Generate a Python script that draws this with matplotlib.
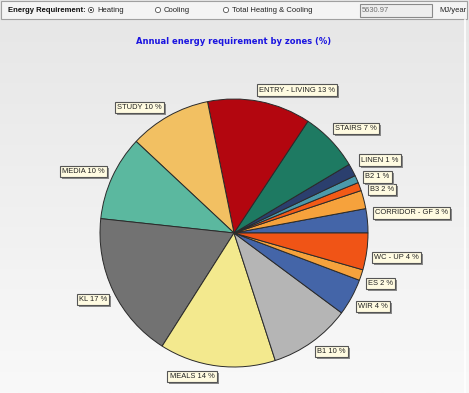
import numpy as np
import matplotlib
matplotlib.use("Agg")
import matplotlib.pyplot as plt
import matplotlib.patheffects as pe
from matplotlib.patches import Rectangle, Circle

plt.rcParams["font.family"] = ["Liberation Sans", "DejaVu Sans"]

# zones, counter-clockwise from 3 o'clock
zones = ["CORRIDOR - GF", "B3", "", "B2", "LINEN", "STAIRS", "ENTRY - LIVING",
         "STUDY", "MEDIA", "KL", "MEALS", "B1", "WIR", "ES", "WC - UP"]
shares = [2.9, 2.2, 1.0, 0.9, 1.5, 7.1, 12.4, 9.8, 10.2, 17.6, 13.9, 9.8, 4.4, 1.3, 4.4]
shown = [3, 2, None, 1, 1, 7, 13, 10, 10, 17, 14, 10, 4, 2, 4]
colors = ["#4465a8", "#f6a23c", "#f25a16", "#4b9aab", "#2b3f6e", "#1e7a62", "#b3060f",
          "#f2c062", "#5bb89f", "#727272", "#f3e98e", "#b5b5b5", "#4465a8", "#f6a23c", "#f05416"]

total_value = "5630.97"
title = "Annual energy requirement by zones (%)"

# label box anchors in pixels (layout only)
label_xy = {
    "CORRIDOR - GF": (375, 213, "left"), "B3": (370, 189.5, "left"), "B2": (365, 177, "left"),
    "LINEN": (361, 160, "left"), "STAIRS": (335, 128.5, "left"),
    "ENTRY - LIVING": (259, 90, "left"), "STUDY": (162, 107.5, "right"),
    "MEDIA": (105, 171.5, "right"), "KL": (107, 299.5, "right"), "MEALS": (192, 376.5, "center"),
    "B1": (317, 351.5, "left"), "WIR": (358, 306.5, "left"), "ES": (368, 283.5, "left"),
    "WC - UP": (374, 257.5, "left"),
}

W, H = 469, 393
fig = plt.figure(figsize=(W / 100, H / 100), dpi=100)

# background gradient
bg = fig.add_axes([0, 0, 1, 1])
grad = np.linspace(0, 1, 256).reshape(-1, 1)
bg.imshow(grad, cmap=matplotlib.colors.LinearSegmentedColormap.from_list("g", ["#e6e6e6", "#f9f9f9"]),
          aspect="auto", extent=[0, W, H, 0])
bg.set_xlim(0, W)
bg.set_ylim(H, 0)
bg.axis("off")

# header bar
bg.add_patch(Rectangle((1, 1), W - 3, 18, facecolor="#f4f4f4", edgecolor="#a0a0a0", lw=0.8))
bg.text(8, 10.5, "Energy Requirement:", fontsize=5.5, fontweight="bold", va="center",
        color="#111111")
for x, txt, on in [(91, "Heating", True), (158, "Cooling", False), (226, "Total Heating & Cooling", False)]:
    bg.add_patch(Circle((x, 10), 2.6, facecolor="white", edgecolor="#555555", lw=0.6))
    if on:
        bg.add_patch(Circle((x, 10), 1.0, facecolor="#222222", edgecolor="none"))
    bg.text(x + 6, 10.5, txt, fontsize=5.5, va="center", color="#222222")
bg.add_patch(Rectangle((360, 3.5), 72, 13, facecolor="#eeeeee", edgecolor="#8a8a8a", lw=0.8))
bg.text(362, 10.5, total_value, fontsize=5.4, va="center", color="#707070")
bg.text(439, 10.5, "MJ/year", fontsize=5.5, va="center", color="#222222")
bg.plot([465, 465], [20, H], color="#ffffff", lw=1.2)

bg.text(234, 41, title, fontsize=6.0, fontweight="bold", color="#1a14e0", ha="center", va="center",
        family=["DejaVu Sans"])

# pie
cx, cy, r = 234, 233, 134
ax = fig.add_axes([(cx - r) / W, (H - cy - r) / H, 2 * r / W, 2 * r / H])
ax.pie(shares, colors=colors, startangle=0, counterclock=True,
       wedgeprops=dict(edgecolor="#2a2a2a", linewidth=0.7))
ax.set_xlim(-1, 1)
ax.set_ylim(-1, 1)
ax.axis("off")

# labels
ov = fig.add_axes([0, 0, 1, 1])
ov.set_xlim(0, W)
ov.set_ylim(H, 0)
ov.axis("off")
for z, v in zip(zones, shown):
    if v is None:
        continue
    x, y, ha = label_xy[z]
    t = ov.text(x, y, f"{z} {v} %", fontsize=5.4, ha=ha, va="center", color="#222222",
                bbox=dict(boxstyle="square,pad=0.3", lw=0.8, facecolor="#fffbe1", edgecolor="#555555"))
    t.get_bbox_patch().set_path_effects([
        pe.SimplePatchShadow(offset=(1.5, -1.5), shadow_rgbFace="#8a8a8a", alpha=1.0),
        pe.Normal()])

fig.savefig("out.png", dpi=100)
